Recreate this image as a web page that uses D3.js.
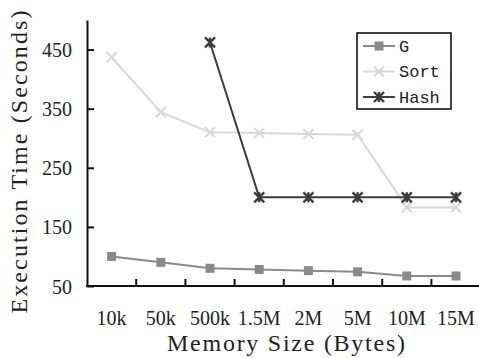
<!DOCTYPE html>
<html>
<head>
<meta charset="utf-8">
<script src="https://cdn.jsdelivr.net/npm/d3@7"></script>
<style>
  html, body { margin: 0; padding: 0; background: #fff; }
  svg { display: block; }
</style>
</head>
<body>
<svg id="chart" width="479" height="358"></svg>
<script>
// Memory sizes tested and the execution time of each algorithm
const categories = ["10k", "50k", "500k", "1.5M", "2M", "5M", "10M", "15M"];
const gValues    = [100, 90, 80, 78, 76, 74, 67, 67];
const sortValues = [437, 344, 310, 309, 307, 306, 183, 183];
const hashValues = [null, null, 462, 200, 200, 200, 200, 200];
const yTicks     = [50, 150, 250, 350, 450];

const seriesList = [
  { name: "G",    values: gValues,    color: "#8a8a8a", marker: "square" },
  { name: "Sort", values: sortValues, color: "#d8d8d8", marker: "cross" },
  { name: "Hash", values: hashValues, color: "#3c3c3c", marker: "star" }
];

const svg = d3.select("#chart");
const margin = { left: 87, top: 20, bottom: 286 };
const plotRight = 480.6;

const x = d3.scaleBand().domain(categories).range([margin.left, plotRight]).padding(0);
const y = d3.scaleLinear().domain([50, 500]).range([margin.bottom, margin.top]);

const serif = '"Liberation Serif", serif';
const mono = '"Liberation Mono", monospace';

// Y axis with inward ticks
const yAxis = svg.append("g")
  .attr("transform", `translate(${margin.left},0)`)
  .call(d3.axisLeft(y).tickValues(yTicks).tickSize(-7).tickPadding(15).tickSizeOuter(0));
yAxis.select(".domain").attr("stroke", "#111").attr("stroke-width", 2);
yAxis.selectAll(".tick line").attr("stroke", "#111").attr("stroke-width", 2);
yAxis.selectAll(".tick text")
  .style("font-family", serif).style("font-size", "20px").attr("fill", "#222")
  .attr("x", -15).attr("dy", "0.35em");

// X axis: ticks sit on the band boundaries and point inward
const xAxis = svg.append("g")
  .attr("transform", `translate(0,${margin.bottom})`);
xAxis.append("line")
  .attr("x1", margin.left - 1).attr("x2", plotRight)
  .attr("stroke", "#111").attr("stroke-width", 2);
xAxis.selectAll("line.tick")
  .data(categories.slice(1))
  .join("line")
  .attr("class", "tick")
  .attr("x1", d => x(d)).attr("x2", d => x(d))
  .attr("y1", 0).attr("y2", -7)
  .attr("stroke", "#111").attr("stroke-width", 2);
xAxis.selectAll("text")
  .data(categories)
  .join("text")
  .attr("x", d => x(d) + x.bandwidth() / 2)
  .attr("y", 32)
  .attr("dy", "0.35em")
  .attr("text-anchor", "middle")
  .style("font-family", serif).style("font-size", "20px").attr("fill", "#222")
  .text(d => d);

// Axis titles
svg.append("text")
  .attr("x", 286).attr("y", 343).attr("dy", "0.35em")
  .attr("text-anchor", "middle")
  .style("font-family", serif).style("font-size", "24px").attr("fill", "#222")
  .attr("textLength", 238).attr("lengthAdjust", "spacing")
  .text("Memory Size (Bytes)");
svg.append("text")
  .attr("transform", "translate(19,162) rotate(-90)")
  .attr("dy", "0.35em")
  .attr("text-anchor", "middle")
  .style("font-family", serif).style("font-size", "24px").attr("fill", "#222")
  .attr("textLength", 303).attr("lengthAdjust", "spacing")
  .text("Execution Time (Seconds)");

// Marker shapes
function drawMarker(g, type, color, cx, cy) {
  if (type === "square") {
    g.append("rect")
      .attr("x", cx - 4.5).attr("y", cy - 4.5)
      .attr("width", 9).attr("height", 9)
      .attr("fill", color);
  } else if (type === "cross") {
    g.append("path")
      .attr("d", `M${cx - 5},${cy - 5}L${cx + 5},${cy + 5}M${cx - 5},${cy + 5}L${cx + 5},${cy - 5}`)
      .attr("stroke", color).attr("stroke-width", 2).attr("fill", "none");
  } else if (type === "star") {
    g.append("path")
      .attr("d", `M${cx - 5},${cy - 5}L${cx + 5},${cy + 5}M${cx - 5},${cy + 5}L${cx + 5},${cy - 5}M${cx},${cy - 5}L${cx},${cy + 5}`)
      .attr("stroke", color).attr("stroke-width", 2.4).attr("fill", "none");
  }
}

const line = d3.line()
  .defined(d => d != null)
  .x((d, i) => x(categories[i]) + x.bandwidth() / 2)
  .y(d => y(d));

// Lines drawn lightest first so the darker series sit on top
const drawOrder = [seriesList[1], seriesList[0], seriesList[2]];
drawOrder.forEach(s => {
  const g = svg.append("g");
  g.append("path")
    .attr("d", line(s.values))
    .attr("fill", "none")
    .attr("stroke", s.color)
    .attr("stroke-width", 2);
  s.values.forEach((v, i) => {
    if (v == null) return;
    drawMarker(g, s.marker, s.color, x(categories[i]) + x.bandwidth() / 2, y(v));
  });
});

// Legend
const legend = svg.append("g");
legend.append("rect")
  .attr("x", 357).attr("y", 33).attr("width", 94).attr("height", 76)
  .attr("fill", "#fff").attr("stroke", "#111").attr("stroke-width", 1.6);
seriesList.forEach((s, i) => {
  const ly = 46 + i * 25.5;
  legend.append("line")
    .attr("x1", 363).attr("x2", 395).attr("y1", ly).attr("y2", ly)
    .attr("stroke", s.color).attr("stroke-width", 2);
  drawMarker(legend, s.marker, s.color, 379, ly);
  legend.append("text")
    .attr("x", 399).attr("y", ly).attr("dy", "0.35em")
    .style("font-family", mono).style("font-size", "17px").attr("fill", "#222")
    .text(s.name);
});
</script>
</body>
</html>
